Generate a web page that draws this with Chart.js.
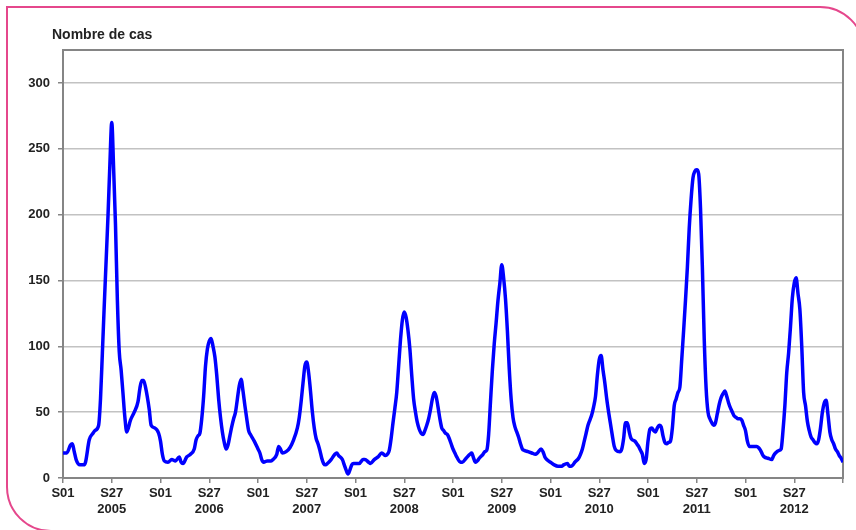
<!DOCTYPE html>
<html>
<head>
<meta charset="utf-8">
<script src="https://cdn.jsdelivr.net/npm/chart.js@4.4.1/dist/chart.umd.min.js"></script>
<style>
  html, body { margin: 0; padding: 0; background: #fff; }
  #wrap { position: relative; width: 856px; height: 530px; overflow: hidden; font-family: "Liberation Sans", Arial, sans-serif; }
  #frame { position: absolute; left: 6px; top: 6px; width: 859px; height: 526px; box-sizing: border-box;
           border: 2px solid #e5478c; border-radius: 0 45px 0 45px; }
  #ytitle { position: absolute; left: 52px; top: 26px; font-weight: bold; font-size: 14px; color: #222; }
  canvas { position: absolute; left: 0; top: 0; }
</style>
</head>
<body>
<div id="wrap">
  <div id="frame"></div>
  <canvas id="casChart" width="856" height="530"></canvas>
  <div id="ytitle">Nombre de cas</div>
</div>
<script>
// weekly case counts, week numbers inside each year
const years = ['2005', '2006', '2007', '2008', '2009', '2010', '2011', '2012'];

const weeks2005 = [1,3,5,6,7,8,10,12,13,15,17,18,20,21,22,23,24,25,26,27,28,29,30,31,32,33,34,35,37,39,41,42,43,44,45,47,48,50,52];
const cases2005 = [19,19,25,26,20,14,10,10,12,29,34,36,40,60,95,131,165,199,238,270,235,192,135,96,82,64,46,35,44,50,58,68,74,74,69,52,40,38,34];

const weeks2006 = [1,2,3,5,7,9,11,12,13,15,17,19,20,21,22,23,24,25,26,27,28,29,30,31,32,33,34,35,36,37,38,39,40,41,42,43,44,45,46,47,48,49,51];
const cases2006 = [28,18,13,12,14,13,16,12,11,16,18,22,29,32,34,45,62,85,98,104,106,100,92,78,60,46,35,27,22,25,32,39,45,50,60,70,75,66,55,45,36,33,28];

const weeks2007 = [1,2,3,4,6,8,9,11,12,13,14,16,18,20,22,23,24,25,26,27,28,29,30,31,32,33,34,35,36,37,38,40,42,43,44,46,47,48,49,50,51,52];
const cases2007 = [22,19,14,12,13,13,14,18,24,22,19,20,23,29,38,46,58,72,85,88,80,66,50,38,30,26,21,15,11,10,11,14,18,19,17,14,10,6,3,6,10,11];

const weeks2008 = [1,3,5,6,8,9,11,13,15,17,18,19,20,21,22,23,24,25,26,27,28,29,30,31,32,33,34,35,36,37,38,39,40,41,42,43,44,45,46,47,48,49,50,51,52];
const cases2008 = [11,11,14,14,12,11,14,16,19,17,18,21,30,42,53,65,85,105,120,126,122,112,98,78,60,50,42,37,34,33,36,40,45,52,60,65,62,54,45,38,36,34,33,30,26];

const weeks2009 = [1,2,3,5,6,8,10,11,12,13,14,15,17,18,19,20,21,22,23,24,25,26,27,28,29,30,31,32,33,34,35,36,37,38,39,41,43,45,46,48,49,50,51];
const cases2009 = [22,19,16,12,12,15,18,19,15,12,13,15,18,20,21,33,58,82,102,118,135,148,162,152,136,112,83,60,46,39,35,31,26,22,21,20,19,18,19,22,20,16,14];

const weeks2010 = [1,3,5,7,8,10,11,12,13,14,16,17,18,19,20,21,22,23,24,25,26,27,28,29,30,31,32,33,34,35,36,38,39,40,41,42,43,44,46,47,48,49,50,51,52];
const cases2010 = [12,10,9,9,10,11,9,9,10,12,15,18,22,28,34,40,44,48,54,62,78,90,93,82,72,60,50,41,32,24,21,20,22,30,42,42,35,30,28,26,24,21,18,11,14];

const weeks2011 = [1,2,3,4,5,6,7,8,9,10,11,12,13,14,15,16,17,18,19,20,21,22,23,24,25,26,27,28,29,30,31,32,33,34,35,36,37,38,39,40,41,42,43,44,45,46,47,48,49,50,51,52];
const cases2011 = [28,37,38,36,35,38,40,39,32,27,26,27,28,38,55,60,65,69,90,112,135,160,190,212,228,233,234,231,205,160,105,68,50,45,42,40,42,49,56,61,64,66,62,57,53,50,47,46,45,45,44,40];

const weeks2012 = [1,2,3,5,7,8,9,10,11,13,15,16,17,19,20,21,22,23,24,25,26,27,28,29,30,31,32,33,34,35,36,37,38,39,40,41,42,43,44,45,46,47,48,49,50,51,52,53];
const cases2012 = [36,28,24,24,24,23,21,18,16,15,14,17,19,21,22,36,55,80,95,115,137,148,152,140,128,100,65,55,43,36,31,29,27,26,29,38,50,57,59,48,35,29,26,22,20,17,15,12];

const yTicks = [0, 50, 100, 150, 200, 250, 300];

// one continuous series, x = weeks since S01 2005
const allWeeks = [weeks2005, weeks2006, weeks2007, weeks2008, weeks2009, weeks2010, weeks2011, weeks2012];
const allCases = [cases2005, cases2006, cases2007, cases2008, cases2009, cases2010, cases2011, cases2012];
const points = [];
allWeeks.forEach((wk, yi) => {
    wk.forEach((w, i) => points.push({ x: yi * 52 + (w - 1), y: allCases[yi][i] }));
});

// grey box round the plot area
const plotFrame = {
    id: 'plotFrame',
    beforeDatasetsDraw(chart) {
        const { ctx, chartArea: a } = chart;
        ctx.save();
        ctx.strokeStyle = '#858585';
        ctx.lineWidth = 2;
        ctx.strokeRect(a.left, a.top, a.right - a.left, a.bottom - a.top);
        ctx.restore();
    }
};

const tickFont = { family: '"Liberation Sans", Arial, sans-serif', size: 13, weight: 'bold' };

new Chart(document.getElementById('casChart'), {
    type: 'line',
    data: {
        datasets: [{
            data: points,
            borderColor: '#0000ff',
            borderWidth: 3.5,
            pointRadius: 0,
            cubicInterpolationMode: 'monotone',
            fill: false
        }]
    },
    options: {
        responsive: false,
        animation: false,
        devicePixelRatio: 1,
        layout: { padding: { top: 50, right: 13, left: 0, bottom: 0 } },
        plugins: { legend: { display: false }, tooltip: { enabled: false } },
        scales: {
            x: {
                type: 'linear',
                min: 0,
                max: 416,
                afterFit: (s) => { s.height = 52; },
                afterBuildTicks: (s) => {
                    const t = [];
                    for (let v = 0; v <= 416; v += 26) t.push({ value: v });
                    s.ticks = t;
                },
                border: { display: false },
                grid: { drawOnChartArea: false, drawTicks: true, tickLength: 5, tickColor: '#858585', lineWidth: 1.5 },
                ticks: {
                    autoSkip: false,
                    maxRotation: 0,
                    padding: 3,
                    color: '#222',
                    font: tickFont,
                    callback: (v) => {
                        if (v >= 416) return '';
                        const half = Math.round(v / 26);
                        return half % 2 === 0 ? 'S01' : ['S27', years[(half - 1) / 2]];
                    }
                }
            },
            y: {
                min: 0,
                max: 325,
                afterFit: (s) => { s.width = 63; },
                afterBuildTicks: (s) => { s.ticks = yTicks.map(v => ({ value: v })); },
                border: { display: false },
                grid: { color: '#c2c2c2', lineWidth: 1.5, tickLength: 5, tickColor: '#858585' },
                ticks: { padding: 8, color: '#222', font: tickFont }
            }
        }
    },
    plugins: [plotFrame]
});
</script>
</body>
</html>
